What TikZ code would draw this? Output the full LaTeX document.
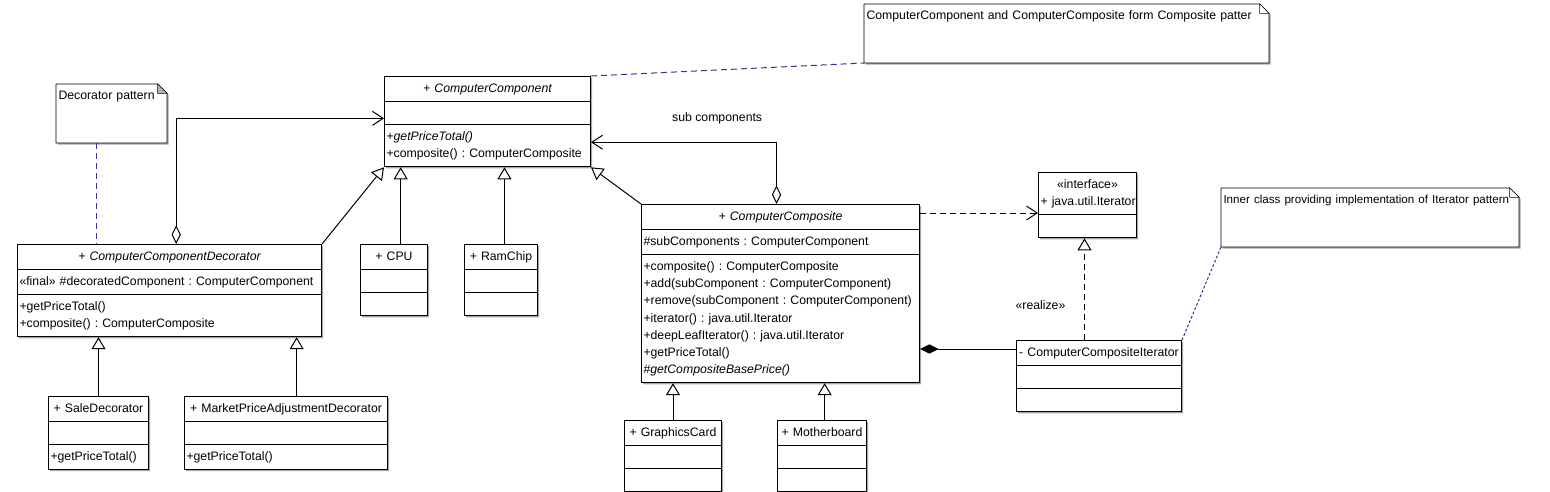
\documentclass[tikz,border=0pt]{standalone}
\usepackage{fontspec}
\setmainfont{Liberation Sans}
\usetikzlibrary{arrows.meta,shapes.multipart,shadows,backgrounds}
\definecolor{notelink}{RGB}{51,51,153}
\setlength{\parindent}{0pt}
\frenchspacing
\newcommand{\ctitle}[1]{\centering\strut#1\par}
\newcommand{\mrow}[1]{\strut#1\par}
\newcommand{\blank}{\rule{0pt}{11.5pt}}

\begin{document}
\begin{tikzpicture}[x=0.75pt, y=-0.75pt, line width=0.75pt,
  font=\fontsize{9.2}{12.9}\selectfont,
  boxshadow/.style={drop shadow={shadow xshift=1.2pt, shadow yshift=-1.2pt, fill=black!35, opacity=1}},
  umlclass/.style={rectangle split, rectangle split parts=3, draw, fill=white, boxshadow,
    anchor=north west, text width=#1, align=left, inner xsep=1.5pt, inner ysep=2.55pt},
  notebox/.style={anchor=north west, text width=#1, align=left, inner xsep=1.5pt,
    inner ysep=2.55pt, text height=8.9pt, text depth=29.5pt},
  dashes/.style={dash pattern=on 4.5pt off 3pt},
  gen/.style={-{Triangle[open, length=9pt, width=10.5pt]}},
  real/.style={gen, dashes},
  dep/.style={dashes, -{Straight Barb[length=8pt, width=10.5pt]}},
  aggr/.style={{Diamond[open, length=14pt, width=7pt]}-{Straight Barb[length=8pt, width=10.5pt]}},
  compo/.style={-{Diamond[length=14pt, width=7pt]}},
  notelink/.style={draw=notelink, dashes}]
\useasboundingbox (0,0) rectangle (1550,492);

% classes
\node[umlclass=151.5pt] (comp) at (384,76) {\ctitle{\itshape +~ComputerComponent}
  \nodepart{two}\blank
  \nodepart{three}\mrow{+\textit{getPriceTotal()}}\mrow{+composite() : ComputerComposite}};
\node[umlclass=225pt] (deco) at (17,244) {\ctitle{\itshape +~ComputerComponentDecorator}
  \nodepart{two}\mrow{«final»~\#decoratedComponent~:~ComputerComponent}
  \nodepart{three}\mrow{+getPriceTotal()}\mrow{+composite() : ComputerComposite}};
\node[umlclass=47.25pt] (cpu) at (360,244) {\ctitle{+~CPU}\nodepart{two}\blank\nodepart{three}\blank};
\node[umlclass=51.75pt] (ram) at (464,244) {\ctitle{+~RamChip}\nodepart{two}\blank\nodepart{three}\blank};
\node[umlclass=205.5pt] (composite) at (641,204) {\ctitle{\itshape +~ComputerComposite}
  \nodepart{two}\mrow{\#subComponents : ComputerComponent}
  \nodepart{three}\mrow{+composite() : ComputerComposite}
  \mrow{+add(subComponent : ComputerComponent)}
  \mrow{+remove(subComponent : ComputerComponent)}
  \mrow{+iterator() : java.util.Iterator}
  \mrow{+deepLeafIterator() : java.util.Iterator}
  \mrow{+getPriceTotal()}
  \mrow{\#\textit{getCompositeBasePrice()}}};
\node[umlclass=70.5pt, rectangle split parts=2] (iface) at (1038,172) {\ctitle{«interface»}\ctitle{+~java.util.Iterator}
  \nodepart{two}\blank};
\node[umlclass=120.75pt] (iter) at (1016,340) {\ctitle{-~ComputerCompositeIterator}\nodepart{two}\blank\nodepart{three}\blank};
\node[umlclass=72pt] (sale) at (48,396) {\ctitle{+~SaleDecorator}\nodepart{two}\blank\nodepart{three}\mrow{+getPriceTotal()}};
\node[umlclass=149.25pt] (market) at (184,396) {\ctitle{+~MarketPriceAdjustmentDecorator}\nodepart{two}\blank\nodepart{three}\mrow{+getPriceTotal()}};
\node[umlclass=69.75pt] (gfx) at (624,420) {\ctitle{+~GraphicsCard}\nodepart{two}\blank\nodepart{three}\blank};
\node[umlclass=63.75pt] (mobo) at (777,420) {\ctitle{+~Motherboard}\nodepart{two}\blank\nodepart{three}\blank};

% notes
\node[notebox=79.5pt] (notedec) at (56,84) {\mbox{Decorator pattern}};
\node[notebox=300pt] (notecomp) at (864,4) {\mbox{ComputerComponent and ComputerComposite form Composite patter}};
\node[notebox=219.75pt] (noteiter) at (1221,188) {\fontsize{8.7}{12.9}\selectfont\mbox{Inner class providing implementation of Iterator pattern}};
\begin{scope}[on background layer]
\foreach \n/\c in {notedec/black!30, notecomp/white, noteiter/white} {
  \draw[fill=white, boxshadow] (\n.north west) -- ([xshift=-7pt]\n.north east) -- ([yshift=-7pt]\n.north east)
    -- (\n.south east) -- (\n.south west) -- cycle;
  \draw[fill=\c] ([xshift=-7pt]\n.north east) |- ([yshift=-7pt]\n.north east) -- cycle;
}
\end{scope}

% relations
\draw[aggr] ([xshift=5pt]deco.north) |- ([yshift=2.5pt]comp.west);
\draw[gen] (deco.north east) -- (comp.south west);
\draw[gen] ([xshift=5pt]cpu.north) -- ([xshift=5pt]cpu.north |- comp.south);
\draw[gen] ([xshift=2.6pt]ram.north) -- ([xshift=2.6pt]ram.north |- comp.south);
\draw[gen] (composite.north west) -- (comp.south east);
\draw[aggr] ([xshift=-3pt]composite.north) |- ([yshift=-15.4pt]comp.east)
  node[pos=0.66, yshift=18pt] (lblsub) {sub components};
\draw[dep] ([yshift=-6.75pt]composite.north east) -- ([yshift=-6.75pt]composite.north east -| iface.west);
\draw[real] ([xshift=-2.25pt]iface.south |- iter.north) -- ([xshift=-2.25pt]iface.south)
  node[pos=0.34, xshift=-33pt] (lblreal) {«realize»};
\draw[compo] ([yshift=-6.75pt]iter.north west) -- ([yshift=-6.75pt]iter.north west -| composite.east);
\draw[gen] (gfx.north) -- (gfx.north |- composite.south);
\draw[gen] ([xshift=2pt]mobo.north) -- ([xshift=2pt]mobo.north |- composite.south);
\draw[gen] (sale.north) -- (sale.north |- deco.south);
\draw[gen] ([xshift=8pt]market.north) -- ([xshift=8pt]market.north |- deco.south);
\draw[notelink] ([xshift=-11.5pt]notedec.south) -- ([xshift=-11.5pt]notedec.south |- deco.north);
\draw[notelink] (comp.north east) -- (notecomp.south west);
\draw[notelink, dash pattern=on 2pt off 1.5pt] (iter.north east) -- (noteiter.south west);
\end{tikzpicture}
\end{document}
